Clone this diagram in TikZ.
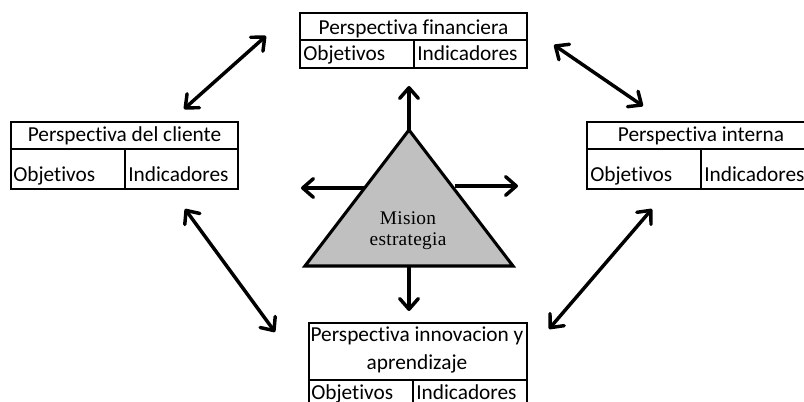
\documentclass[tikz,border=0pt]{standalone}
\usepackage{fontspec}
\setmainfont{Carlito}[Ligatures={NoCommon,NoContextual}]
\newfontfamily\serifmision{Liberation Serif}[LetterSpace=1.5]
\usetikzlibrary{arrows.meta}

\tikzset{
  cell/.style={draw, line width=1.2pt},
  boxtext/.style={inner sep=0.75pt, font=\fontsize{16}{21}\selectfont},
  tri/.style={draw, line width=2.3pt, line join=miter, fill={rgb,255:red,192;green,192;blue,192}},
  barb/.tip={Straight Barb[length=8pt,width=14pt,line cap=round,line join=round]},
  ray/.style={line width=2.6pt, -barb},
  link/.style={line width=2.6pt, barb-barb}
}

\begin{document}
\begin{tikzpicture}[x=0.75pt,y=0.75pt,yscale=-1,xscale=1]
\useasboundingbox (0,0) rectangle (804,402);
\clip (0,0) rectangle (804,402);

%Table: financiera
    \draw[cell] (300,13) rectangle (527,68);
    \draw[cell] (300,40) -- (527,40);
    \draw[cell] (414,40) -- (414,68);
%Table: cliente
    \draw[cell] (11,122) rectangle (238,189);
    \draw[cell] (11,149) -- (238,149);
    \draw[cell] (125,149) -- (125,189);
%Table: interna
    \draw[cell] (587,122) rectangle (815,189);
    \draw[cell] (587,149) -- (815,149);
    \draw[cell] (701,149) -- (701,189);
%Table: innovacion
    \draw[cell] (309,323) rectangle (527,408);
    \draw[cell] (309,380) -- (527,380);
    \draw[cell] (413,380) -- (413,408);

%Triangle
    \draw[tri] (409,130) -- (513,266) -- (305,266) -- cycle;
    \coordinate (apex) at (409,130);
    \coordinate (base) at (409,266);
    \coordinate (leftside) at (364,188);
    \coordinate (rightside) at (455,186);

% Text Node
    \node[boxtext, anchor=base] (fin) at (413.5,34.5) {Perspectiva financiera};
    \node[boxtext, anchor=base west] (finobj) at (302,61) {Objetivos};
    \node[boxtext, anchor=base west] (finind) at (416,61) {Indicadores};
% Text Node
    \node[boxtext, anchor=base] (cli) at (124.5,142) {Perspectiva del cliente};
    \node[boxtext, anchor=base west] (cliobj) at (12,182) {Objetivos};
    \node[boxtext, anchor=base west] (cliind) at (127,182) {Indicadores};
% Text Node
    \node[boxtext, anchor=base] (int) at (701,142) {Perspectiva interna};
    \node[boxtext, anchor=base west] (intobj) at (589,182) {Objetivos};
    \node[boxtext, anchor=base west] (intind) at (703,182) {Indicadores};
% Text Node
    \node[boxtext, anchor=base] (inn) at (417,342) {Perspectiva innovacion y};
    \node[boxtext, anchor=base] (innb) at (417,370) {aprendizaje};
    \node[boxtext, anchor=base west] (innobj) at (310,400) {Objetivos};
    \node[boxtext, anchor=base west] (innind) at (415,400) {Indicadores};
% Text Node
    \node[inner sep=0.75pt, align=center, font=\serifmision\fontsize{14.5}{15.75}\selectfont] (mision) at (408,231) {Mision\\estrategia};

%Arrow ends
    \coordinate (finin) at (409,86);
    \coordinate (cliin) at (301,188);
    \coordinate (intin) at (518,186);
    \coordinate (innin) at (409,311);
    \coordinate (clitop) at (184,109);
    \coordinate (fincli) at (266,36);
    \coordinate (finint) at (554,45);
    \coordinate (inttop) at (643,106);
    \coordinate (clibot) at (185,209);
    \coordinate (inncli) at (275,332);
    \coordinate (innint) at (549,329);
    \coordinate (intbot) at (652,209);

%Straight Lines
    \draw[ray] (apex) -- (finin);
    \draw[ray] (leftside) -- (cliin);
    \draw[ray] (rightside) -- (intin);
    \draw[ray] (base) -- (innin);
    \draw[link] (clitop) -- (fincli);
    \draw[link] (finint) -- (inttop);
    \draw[link] (clibot) -- (inncli);
    \draw[link] (innint) -- (intbot);

\end{tikzpicture}
\end{document}
